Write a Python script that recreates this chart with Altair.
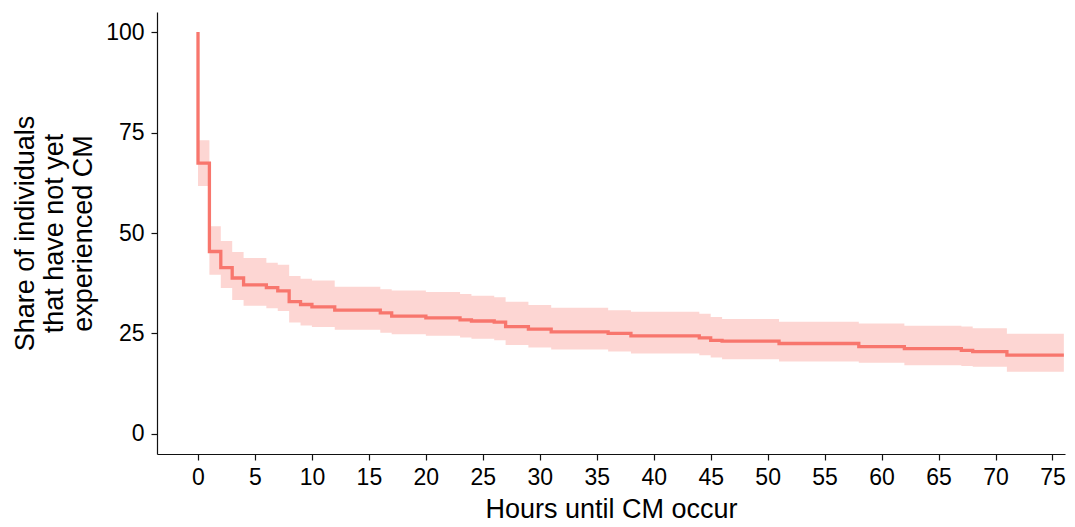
import altair as alt
import pandas as pd

# Kaplan-Meier style step curve
hours = [0, 0, 1, 2, 3, 4, 6, 7, 8, 9,
         10, 12, 16, 17, 20, 23, 24, 26, 27, 29,
         31, 36, 38, 44, 45, 46, 51, 58, 62, 67,
         68, 71, 76]
survival = [100, 67.4, 45.4, 41.4, 38.8, 37.1, 36.4, 35.6, 32.9, 32.2,
            31.6, 30.8, 30.1, 29.3, 28.9, 28.4, 28.1, 27.8, 26.7, 26.1,
            25.4, 25.0, 24.4, 23.9, 23.3, 23.1, 22.5, 21.7, 21.2, 20.8,
            20.5, 19.6, 19.6]
ci_lower = [100, 61.7, 39.6, 36.3, 33.3, 31.9, 31.3, 30.6, 27.7, 27.0,
            26.6, 25.9, 25.2, 24.8, 24.4, 24.0, 23.7, 23.3, 22.1, 21.5,
            21.0, 20.5, 20.0, 19.6, 19.0, 18.6, 18.0, 17.7, 17.1, 16.9,
            16.7, 15.5, 15.5]
ci_upper = [100, 73.1, 51.7, 48.0, 45.3, 43.8, 42.6, 42.1, 39.3, 38.6,
            38.2, 36.6, 36.0, 35.7, 35.3, 34.8, 34.4, 34.0, 32.9, 32.1,
            31.4, 30.8, 30.4, 29.9, 29.1, 28.6, 27.9, 27.5, 26.9, 26.7,
            26.3, 24.9, 24.9]

x_ticks = list(range(0, 76, 5))
y_ticks = [0, 25, 50, 75, 100]
x_title = "Hours until CM occur"
y_title = ["Share of individuals", "that have not yet", "experienced CM"]

df = pd.DataFrame({
    "hours": hours,
    "surv": survival,
    "lo": ci_lower,
    "hi": ci_upper,
    "idx": list(range(len(hours))),
})
# the band starts after the first drop (no band around the initial 100)
band_df = df[df["idx"] > 0]

FONT = "Liberation Sans"
COL = "#F8766D"

xscale = alt.Scale(domain=[-3.6, 76.1], nice=False, zero=False)
yscale = alt.Scale(domain=[-5, 105], nice=False, zero=False)

common_axis = dict(
    grid=False, domainColor="#111111", domainWidth=1.2,
    tickColor="#111111", tickWidth=1.2, tickSize=6,
    labelFontSize=23, labelColor="black", labelFont=FONT,
    labelFlush=False, labelOverlap=False,
    titleFont=FONT, titleFontSize=27, titleFontWeight="normal",
    titleColor="black", titleBaseline="alphabetic",
)

xaxis = alt.Axis(values=x_ticks, title=x_title, labelPadding=6,
                 titleY=63, **common_axis)
yaxis = alt.Axis(values=y_ticks, title=y_title, labelPadding=7,
                 titleX=-124, titleY=221, titleLineHeight=29,
                 titleAngle=270, titleAlign="center", **common_axis)

band = alt.Chart(band_df).mark_area(
    color=COL, fillOpacity=0.3, interpolate="step-after", clip=True
).encode(
    x=alt.X("hours:Q", scale=xscale, axis=xaxis),
    y=alt.Y("lo:Q", scale=yscale, axis=yaxis),
    y2=alt.Y2("hi:Q"),
)

line = alt.Chart(df).mark_line(
    color=COL, strokeWidth=3.3, interpolate="step-after", clip=True
).encode(
    x=alt.X("hours:Q", scale=xscale, axis=xaxis),
    y=alt.Y("surv:Q", scale=yscale, axis=yaxis),
    order="idx:Q",
)

chart = alt.layer(band, line).properties(
    width=908, height=442,
    autosize=alt.AutoSizeParams(type="none"),
    padding={"left": 149, "top": 4, "right": 2, "bottom": 70},
).configure_view(stroke=None)

chart.save("out.html", embed_options={"renderer": "svg", "actions": False})
